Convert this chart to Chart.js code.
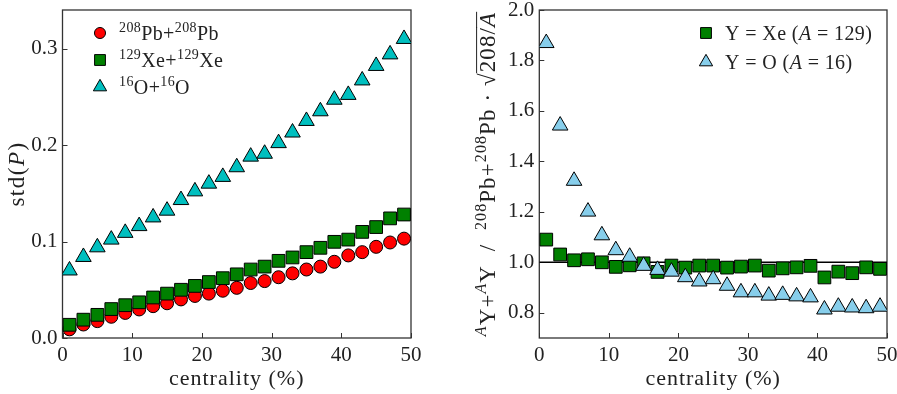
<!DOCTYPE html>
<html>
<head>
<meta charset="utf-8">
<script src="https://cdn.jsdelivr.net/npm/chart.js@4.4.1/dist/chart.umd.min.js"></script>
<style>
  html, body { margin: 0; padding: 0; background: #fff; }
  #wrap { position: relative; width: 897px; height: 394px; }
  #chartLeft { position: absolute; left: 0; top: 0; }
  #chartRight { position: absolute; left: 450px; top: 0; }
</style>
</head>
<body>
<div id="wrap">
  <canvas id="chartLeft" width="450" height="394"></canvas>
  <canvas id="chartRight" width="447" height="394"></canvas>
</div>
<script>
// centrality bins (%)
const centrality = [1, 3, 5, 7, 9, 11, 13, 15, 17, 19, 21, 23, 25, 27, 29, 31, 33, 35, 37, 39, 41, 43, 45, 47, 49];

// left panel: std(P)
const stdPbPb = [0.009, 0.014, 0.0175, 0.022, 0.026, 0.0296, 0.033, 0.036, 0.040, 0.0436, 0.046, 0.049, 0.052,
                 0.057, 0.059, 0.063, 0.067, 0.071, 0.074, 0.079, 0.0856, 0.089, 0.0945, 0.099, 0.103];
const stdXeXe = [0.0137, 0.019, 0.024, 0.030, 0.034, 0.037, 0.042, 0.046, 0.050, 0.054, 0.058, 0.062, 0.066,
                 0.071, 0.074, 0.080, 0.0835, 0.089, 0.0935, 0.0997, 0.102, 0.110, 0.115, 0.124, 0.128];
const stdOO = [0.070, 0.084, 0.094, 0.102, 0.109, 0.116, 0.125, 0.132, 0.143, 0.152, 0.160, 0.167, 0.177,
               0.188, 0.191, 0.202, 0.213, 0.225, 0.235, 0.247, 0.252, 0.267, 0.282, 0.294, 0.310];

// right panel: scaled ratio to Pb+Pb
const ratioXe = [1.090, 1.031, 1.008, 1.012, 1.000, 0.982, 0.988, 0.996, 0.962, 0.987, 0.979, 0.987, 0.987,
                 0.979, 0.983, 0.987, 0.967, 0.976, 0.980, 0.986, 0.940, 0.963, 0.957, 0.980, 0.974];
const ratioO = [1.869, 1.542, 1.323, 1.201, 1.107, 1.048, 1.022, 0.986, 0.970, 0.963, 0.941, 0.924, 0.933,
                0.907, 0.881, 0.881, 0.868, 0.871, 0.865, 0.861, 0.813, 0.824, 0.821, 0.818, 0.824];

const refLineX = [0, 50];
const refLevel = 1.0;

const xTicks = [0, 10, 20, 30, 40, 50];
const leftYTicks = [0.0, 0.1, 0.2, 0.3];
const rightYTicks = [0.8, 1.0, 1.2, 1.4, 1.6, 1.8, 2.0];

const FONT = '"Liberation Serif", "DejaVu Serif", serif';
const TEXT = '#222';

function pts(ys) {
    return centrality.map((x, i) => ({x: x, y: ys[i]}));
}

// text with superscripts / italics / overline; parts = [[text, flags], ...]
function partFont(flags, size) {
    const sz = flags.includes('s') ? Math.round(size * 0.68) : size;
    return (flags.includes('i') ? 'italic ' : '') + sz + 'px ' + FONT;
}

function drawRich(ctx, parts, x, y, size, align, spacing) {
    ctx.save();
    ctx.fillStyle = TEXT;
    ctx.textBaseline = 'alphabetic';
    ctx.textAlign = 'left';
    ctx.letterSpacing = (spacing || 0) + 'px';
    let w = 0;
    parts.forEach(p => { ctx.font = partFont(p[1], size); w += ctx.measureText(p[0]).width; });
    let cx = align === 'center' ? x - w / 2 : x;
    parts.forEach(p => {
        const flags = p[1];
        ctx.font = partFont(flags, size);
        const dy = flags.includes('s') ? -size * 0.4 : 0;
        ctx.fillText(p[0], cx, y + dy);
        const pw = ctx.measureText(p[0]).width;
        if (flags.includes('o')) {
            ctx.strokeStyle = TEXT;
            ctx.lineWidth = 1;
            ctx.beginPath();
            ctx.moveTo(cx - 1, y - size * 0.8);
            ctx.lineTo(cx + pw, y - size * 0.8);
            ctx.stroke();
        }
        cx += pw;
    });
    ctx.restore();
}

function fixScale(width, height) {
    return function(scale) {
        if (width != null) scale.width = width;
        if (height != null) scale.height = height;
        scale.paddingTop = 0;
        scale.paddingBottom = 0;
        scale.paddingLeft = 0;
        scale.paddingRight = 0;
    };
}

function setTicks(values) {
    return function(scale) {
        scale.ticks = values.map(v => ({value: v}));
    };
}

// box around the axes and inward tick marks
const frameTicks = {
    id: 'frameTicks',
    beforeDatasetsDraw(chart) {
        const {ctx, chartArea: a, scales} = chart;
        ctx.save();
        ctx.strokeStyle = '#333';
        ctx.lineWidth = 1;
        ctx.beginPath();
        scales.x.ticks.forEach(t => {
            const px = Math.round(scales.x.getPixelForValue(t.value)) + 0.5;
            ctx.moveTo(px, a.bottom);
            ctx.lineTo(px, a.bottom - 5);
        });
        scales.y.ticks.forEach(t => {
            const py = Math.round(scales.y.getPixelForValue(t.value)) + 0.5;
            ctx.moveTo(a.left, py);
            ctx.lineTo(a.left + 5, py);
        });
        ctx.stroke();
        ctx.lineWidth = 1.3;
        ctx.strokeRect(a.left, a.top, a.right - a.left, a.bottom - a.top);
        ctx.restore();
    }
};

// legend and axis titles drawn as rich text
function overlay(cfg) {
    return {
        id: 'overlay',
        afterDraw(chart) {
            const ctx = chart.ctx;
            const a = chart.chartArea;
            cfg.legendRows.forEach((row, i) => {
                const ds = chart.data.datasets[row.ds];
                ctx.save();
                ctx.fillStyle = ds.pointBackgroundColor;
                ctx.strokeStyle = '#000';
                ctx.lineWidth = 1;
                Chart.helpers.drawPoint(ctx, {
                    pointStyle: ds.pointStyle,
                    radius: ds.pointRadius * 0.85,
                    rotation: 0,
                    borderWidth: 1
                }, cfg.legendX, cfg.rowY[i]);
                ctx.restore();
                drawRich(ctx, row.parts, cfg.textX, cfg.rowY[i] + 7, 20, 'left', 0.4);
            });
            // x title
            drawRich(ctx, [['centrality (%)', 'n']], (a.left + a.right) / 2, 385, 22, 'center', 1.0);
            // y title
            ctx.save();
            ctx.translate(cfg.yTitleX, (a.top + a.bottom) / 2);
            ctx.rotate(-Math.PI / 2);
            drawRich(ctx, cfg.yTitle, 0, 7, cfg.yTitleSize, 'center', cfg.yTitleSpacing);
            ctx.restore();
        }
    };
}

function xScale() {
    return {
        type: 'linear',
        min: 0,
        max: 50,
        afterBuildTicks: setTicks(xTicks),
        afterFit: fixScale(null, 56),
        grid: {display: false, drawTicks: false},
        border: {display: false},
        ticks: {
            color: TEXT,
            padding: 5,
            font: {family: FONT, size: 21},
            maxRotation: 0,
            callback: v => String(v)
        }
    };
}

function yScale(min, max, ticks, width) {
    return {
        type: 'linear',
        min: min,
        max: max,
        afterBuildTicks: setTicks(ticks),
        afterFit: fixScale(width, null),
        grid: {display: false, drawTicks: false},
        border: {display: false},
        ticks: {
            color: TEXT,
            padding: 5,
            font: {family: FONT, size: 21},
            callback: v => v.toFixed(1)
        }
    };
}

function markerSet(label, data, style, radius, fill, order) {
    return {
        label: label,
        data: pts(data),
        pointStyle: style,
        pointRadius: radius,
        pointHoverRadius: radius,
        pointBackgroundColor: fill,
        pointBorderColor: '#000',
        pointBorderWidth: 1,
        showLine: false,
        order: order
    };
}

const sup = (t) => [t, 's'];
const nrm = (t) => [t, 'n'];

new Chart(document.getElementById('chartLeft'), {
    type: 'scatter',
    data: {
        datasets: [
            markerSet('Pb+Pb', stdPbPb, 'circle', 6.5, '#ff0000', 3),
            markerSet('Xe+Xe', stdXeXe, 'rect', 9, '#008000', 2),
            markerSet('O+O', stdOO, 'triangle', 9, '#00bfbf', 1)
        ]
    },
    options: {
        responsive: false,
        animation: false,
        layout: {padding: {top: 7, right: 39, left: 0, bottom: 0}},
        plugins: {legend: {display: false}, tooltip: {enabled: false}},
        scales: {
            x: xScale(),
            y: yScale(0, 0.34, leftYTicks, 62.5)
        }
    },
    plugins: [frameTicks, overlay({
        legendRows: [
            {ds: 0, parts: [sup('208'), nrm('Pb+'), sup('208'), nrm('Pb')]},
            {ds: 1, parts: [sup('129'), nrm('Xe+'), sup('129'), nrm('Xe')]},
            {ds: 2, parts: [sup('16'), nrm('O+'), sup('16'), nrm('O')]}
        ],
        legendX: 100, textX: 119, rowY: [33, 60, 87],
        yTitle: [nrm('std('), ['P', 'i'], nrm(')')],
        yTitleX: 17, yTitleSize: 23, yTitleSpacing: 1.5
    })]
});

new Chart(document.getElementById('chartRight'), {
    type: 'scatter',
    data: {
        datasets: [
            markerSet('Y = Xe', ratioXe, 'rect', 9, '#008000', 2),
            markerSet('Y = O', ratioO, 'triangle', 9, '#87ceeb', 1),
            {
                type: 'line',
                label: 'ref',
                data: refLineX.map(x => ({x: x, y: refLevel})),
                borderColor: '#000',
                borderWidth: 1.5,
                pointRadius: 0,
                showLine: true,
                fill: false,
                order: 5
            }
        ]
    },
    options: {
        responsive: false,
        animation: false,
        layout: {padding: {top: 7, right: 9, left: 0, bottom: 0}},
        plugins: {legend: {display: false}, tooltip: {enabled: false}},
        scales: {
            x: xScale(),
            y: yScale(0.7, 2.0, rightYTicks, 89.3)
        }
    },
    plugins: [frameTicks, overlay({
        legendRows: [
            {ds: 0, parts: [nrm('Y = Xe ('), ['A', 'i'], nrm(' = 129)')]},
            {ds: 1, parts: [nrm('Y = O ('), ['A', 'i'], nrm(' = 16)')]}
        ],
        legendX: 256, textX: 275, rowY: [33, 62],
        yTitle: [['A', 'si'], nrm('Y+'), ['A', 'si'], nrm('Y  /  '), sup('208'), nrm('Pb+'), sup('208'), nrm('Pb · √'),
                 ['208/', 'no'], ['A', 'io']],
        yTitleX: 38, yTitleSize: 23, yTitleSpacing: 1.1
    })]
});
</script>
</body>
</html>
